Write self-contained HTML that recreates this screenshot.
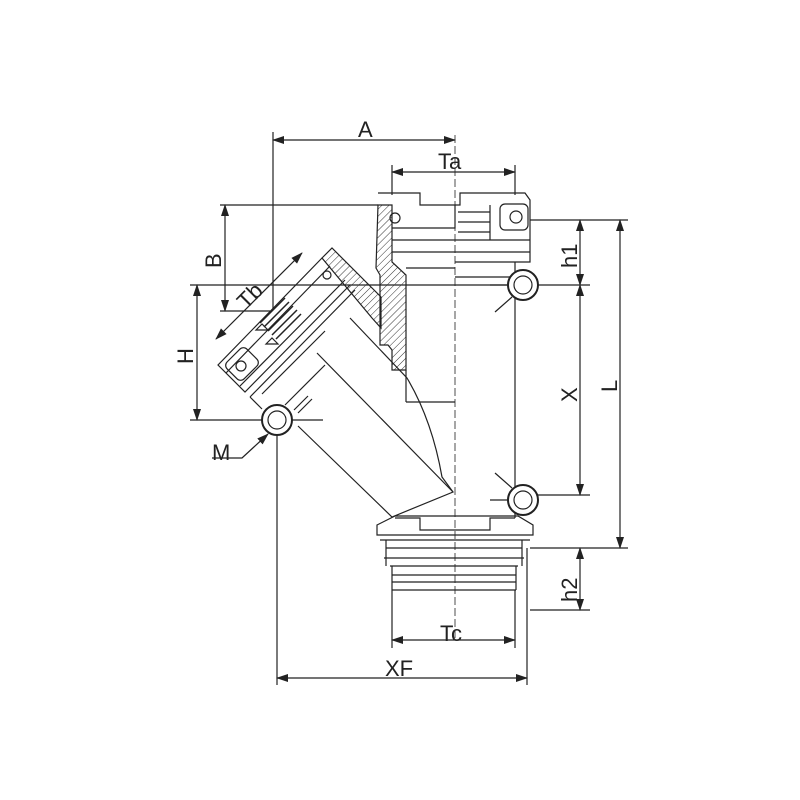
<!DOCTYPE html>
<html><head><style>
html,body{margin:0;padding:0;background:#fff;width:800px;height:800px;overflow:hidden}
text{font-family:"Liberation Sans",sans-serif;font-size:22px;fill:#222}
</style></head><body>
<svg width="800" height="800" viewBox="0 0 800 800" xmlns="http://www.w3.org/2000/svg">
<defs>
<pattern id="h" width="5" height="5" patternUnits="userSpaceOnUse" patternTransform="rotate(45)">
<line x1="0" y1="0" x2="0" y2="5" stroke="#333" stroke-width="1"/></pattern>
<marker id="ar" markerWidth="12" markerHeight="8" refX="11" refY="4" orient="auto-start-reverse" markerUnits="userSpaceOnUse">
<path d="M0,0 L12,4 L0,8 z" fill="#222"/></marker>
</defs>
<g stroke="#222" fill="none" stroke-width="1.2">
<line x1="273" y1="132" x2="273" y2="310"/>
<line x1="273" y1="140" x2="455" y2="140" marker-start="url(#ar)" marker-end="url(#ar)"/>
<line x1="392" y1="172" x2="515" y2="172" marker-start="url(#ar)" marker-end="url(#ar)"/>
<line x1="392" y1="165" x2="392" y2="195"/><line x1="515" y1="165" x2="515" y2="195"/>
<line x1="455" y1="135" x2="455" y2="640" stroke-dasharray="8,3" stroke-width="0.8"/>
<line x1="220" y1="205" x2="378" y2="205"/>
<line x1="225" y1="205" x2="225" y2="311" marker-start="url(#ar)" marker-end="url(#ar)"/>
<line x1="220" y1="311" x2="270" y2="311"/>
<line x1="190" y1="285" x2="590" y2="285"/>
<line x1="197" y1="285" x2="197" y2="420" marker-start="url(#ar)" marker-end="url(#ar)"/>
<line x1="190" y1="420" x2="264" y2="420"/>
<line x1="530" y1="220" x2="628" y2="220"/>
<line x1="530" y1="548" x2="628" y2="548"/>
<line x1="538" y1="495" x2="590" y2="495"/>
<line x1="530" y1="610" x2="590" y2="610"/>
<line x1="580" y1="220" x2="580" y2="285" marker-start="url(#ar)" marker-end="url(#ar)"/>
<line x1="580" y1="285" x2="580" y2="495" marker-start="url(#ar)" marker-end="url(#ar)"/>
<line x1="580" y1="548" x2="580" y2="610" marker-start="url(#ar)" marker-end="url(#ar)"/>
<line x1="620" y1="220" x2="620" y2="548" marker-start="url(#ar)" marker-end="url(#ar)"/>
<line x1="277" y1="434" x2="277" y2="685"/>
<line x1="527" y1="548" x2="527" y2="685"/>
<line x1="392" y1="590" x2="392" y2="648"/><line x1="515" y1="590" x2="515" y2="648"/>
<line x1="392" y1="640" x2="515" y2="640" marker-start="url(#ar)" marker-end="url(#ar)"/>
<line x1="277" y1="678" x2="527" y2="678" marker-start="url(#ar)" marker-end="url(#ar)"/>
<polyline points="212,458 242,458 268,434" marker-end="url(#ar)"/>
<line x1="216" y1="339" x2="302" y2="253" marker-start="url(#ar)" marker-end="url(#ar)"/>

<path d="M378,205 L392,205 L392,262 L406,275 L406,370 L392,370 L392,350 L388,345 L380,345 L380,275 L376,268 Z" fill="url(#h)"/>
<path d="M378,193 L420,193 L420,205 L455,205 L455,228 L392,228"/>
<path d="M392,240 L455,240 M392,252 L455,252 M406,268 L455,268"/>
<circle cx="395" cy="218" r="5"/>
<path d="M455,205 L460,205 L460,193 L525,193 L530,200 L530,262 L455,262"/>
<path d="M458,212 L490,212 M458,222 L490,222 M458,232 L490,232 M490,205 L490,240 M455,240 L530,240 M455,252 L530,252"/>
<rect x="500" y="204" width="28" height="26" rx="5"/>
<circle cx="516" cy="217" r="6"/>
<line x1="406" y1="370" x2="406" y2="402"/>
<line x1="406" y1="402" x2="455" y2="402"/>
<line x1="515" y1="262" x2="515" y2="518"/>
<line x1="455" y1="277" x2="515" y2="277"/>
<circle cx="523" cy="285" r="15" stroke-width="2" fill="#fff"/><circle cx="523" cy="285" r="9"/>
<path d="M490,285 L508,285 M512,297 L495,312"/>
<circle cx="523" cy="500" r="15" stroke-width="2" fill="#fff"/><circle cx="523" cy="500" r="9"/>
<path d="M490,500 L508,500 M512,488 L495,473"/>

<path d="M322,258 L332,248 L381,297 L381,328 L372,318 Z" fill="url(#h)"/>
<path d="M322,258 L218,365 L245,392 L350,285"/>
<path d="M226,373 L330,266"/>
<path d="M240,386 L345,280 M250,397 L355,290"/>
<path d="M350,318 L407,378 Q432,420 442,477 L453,492 L392,517 L298,426"/>
<path d="M317,353 L453,492"/>
<path d="M250,397 L262,409 M262,394 L325,331"/>
<path d="M325,365 L285,405"/>
<path d="M260,323 L285,298 M264,327 L289,302 M268,331 L293,306 M272,335 L297,310 M276,339 L301,314" stroke-width="1.5"/>
<path d="M256,330 L262,324 L268,330 Z M266,344 L272,338 L278,344 Z"/>
<rect x="228" y="352" width="28" height="24" rx="5" transform="rotate(-45 242 364)"/>
<circle cx="241" cy="366" r="5"/>
<circle cx="327" cy="275" r="4"/>
<circle cx="277" cy="420" r="15" stroke-width="2" fill="#fff"/><circle cx="277" cy="420" r="9"/>
<path d="M292,420 L323,420 M294,410 L308,396 M298,413 L312,399"/>

<path d="M377,525 L395,516 L518,516 L533,525 L533,535 L377,535 Z"/>
<path d="M395,518 L420,518 L420,530 L490,530 L490,518 L515,518 M380,540 L530,540 M386,548 L522,548 M384,558 L524,558 M390,566 L518,566 M392,575 L516,575 M392,582 L516,582 M392,590 L516,590"/>
<line x1="386" y1="540" x2="386" y2="566"/><line x1="522" y1="540" x2="522" y2="566"/>
<line x1="392" y1="566" x2="392" y2="590"/><line x1="516" y1="566" x2="516" y2="590"/>
</g>
<g>
<text x="358" y="137">A</text>
<text x="438" y="169">Ta</text>
<text x="440" y="641">Tc</text>
<text x="385" y="676">XF</text>
<text x="212" y="460">M</text>
<text transform="translate(221,268) rotate(-90)">B</text>
<text transform="translate(193,364) rotate(-90)">H</text>
<text transform="translate(577,402) rotate(-90)">X</text>
<text transform="translate(617,392) rotate(-90)">L</text>
<text transform="translate(577,268) rotate(-90)">h1</text>
<text transform="translate(577,602) rotate(-90)">h2</text>
<text transform="translate(246,310) rotate(-45)">Tb</text>
</g>
</svg>
</body></html>
